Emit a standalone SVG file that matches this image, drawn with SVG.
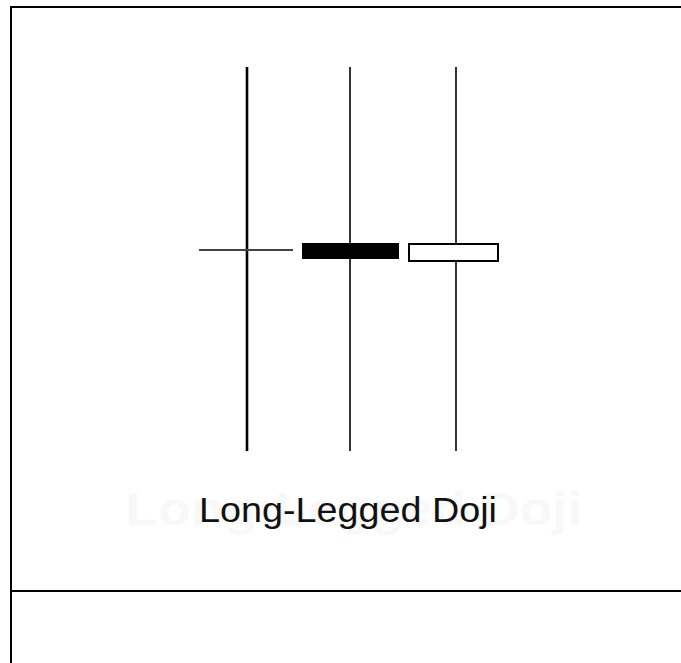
<svg xmlns="http://www.w3.org/2000/svg" width="681" height="663" viewBox="0 0 681 663">
<style>
.frame{stroke:#000;stroke-width:2;fill:none}
.wick{stroke:#000;fill:none}
.lbl{font-family:"Liberation Sans",Arial,sans-serif;fill:#111}
.ghost{font-family:"Liberation Sans",Arial,sans-serif;font-weight:bold;fill:#f8f8f8}
</style>
<rect x="0" y="0" width="681" height="663" fill="#fff"/>
<g id="frame">
<line class="frame" x1="11" y1="6" x2="11" y2="663"/>
<line class="frame" x1="10" y1="7" x2="681" y2="7"/>
<line class="frame" x1="10" y1="591" x2="681" y2="591"/>
</g>
<g id="ghost-title">
<text class="ghost" x="354" y="525" font-size="46" text-anchor="middle" textLength="457" lengthAdjust="spacingAndGlyphs">Long-Legged Doji</text>
</g>
<g id="doji">
<line class="wick" x1="247" y1="67" x2="247" y2="451" stroke-width="2.6"/>
<line x1="199" y1="250" x2="293" y2="250" stroke="#444" stroke-width="2"/>
</g>
<g id="black-candle">
<line class="wick" x1="350" y1="67" x2="350" y2="451" stroke-width="1.6"/>
<rect x="302" y="243" width="97" height="16" fill="#000"/>
</g>
<g id="white-candle">
<line class="wick" x1="456" y1="67" x2="456" y2="451" stroke-width="1.6"/>
<rect x="409" y="244" width="89" height="17" fill="#fff" stroke="#000" stroke-width="2"/>
</g>
<g id="title">
<text class="lbl" x="199" y="522" font-size="35" textLength="298" lengthAdjust="spacingAndGlyphs">Long-Legged Doji</text>
</g>
</svg>
